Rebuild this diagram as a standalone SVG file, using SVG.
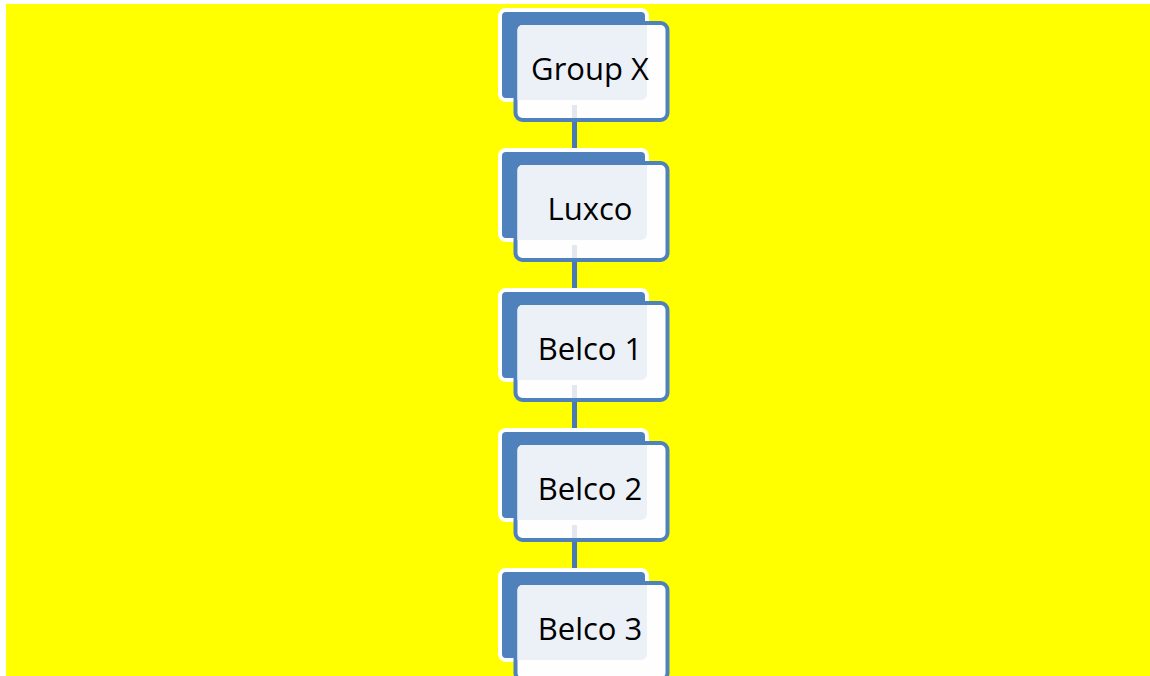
<svg xmlns="http://www.w3.org/2000/svg" xmlns:xlink="http://www.w3.org/1999/xlink" width="1150" height="676" viewBox="0 0 1150 676">
  <style>
    .back { fill: #4F81BD; stroke: #FFFFFF; stroke-width: 4; }
    .front { fill: #FEFEFE; stroke: #4F81BD; stroke-width: 4; }
    .tint { fill: #ECF1F8; }
    .ghost { stroke: #E3E7EF; stroke-width: 5; }
    .link { stroke: #4A7AB5; stroke-width: 5; fill: none; }
    .label { font-family: "Open Sans", "Liberation Sans", sans-serif; font-size: 31px; fill: #000000; text-anchor: middle; }
  </style>
  <defs>
    <!-- one box: blue card behind, light card in front -->
    <clipPath id="frontClip">
      <rect x="517.5" y="25" width="148" height="93" rx="5"/>
    </clipPath>
    <g id="box">
      <rect class="back" x="500" y="10" width="147" height="90" rx="6"/>
      <rect class="front" x="515.5" y="23" width="152" height="97" rx="7"/>
      <rect class="tint" x="500" y="10" width="147" height="90" rx="6" clip-path="url(#frontClip)"/>
    </g>
    <!-- outgoing link seen faintly through the front card -->
    <line id="ghostLink" class="ghost" x1="574.5" y1="105" x2="574.5" y2="118"/>
  </defs>

  <rect x="0" y="0" width="1150" height="676" fill="#FFFFFF"/>
  <rect x="6" y="4" width="1144" height="672" fill="#FFFF00"/>

  <g id="connectors">
    <line class="link" x1="574.5" y1="100" x2="574.5" y2="150"/>
    <line class="link" x1="574.5" y1="240" x2="574.5" y2="290"/>
    <line class="link" x1="574.5" y1="380" x2="574.5" y2="430"/>
    <line class="link" x1="574.5" y1="520" x2="574.5" y2="570"/>
  </g>

  <g id="node-group-x">
    <use xlink:href="#box"/>
    <use xlink:href="#ghostLink"/>
    <text class="label" x="590" y="80">Group X</text>
  </g>
  <g id="node-luxco" transform="translate(0,140)">
    <use xlink:href="#box"/>
    <use xlink:href="#ghostLink"/>
    <text class="label" x="590" y="80">Luxco</text>
  </g>
  <g id="node-belco-1" transform="translate(0,280)">
    <use xlink:href="#box"/>
    <use xlink:href="#ghostLink"/>
    <text class="label" x="590" y="80">Belco 1</text>
  </g>
  <g id="node-belco-2" transform="translate(0,420)">
    <use xlink:href="#box"/>
    <use xlink:href="#ghostLink"/>
    <text class="label" x="590" y="80">Belco 2</text>
  </g>
  <g id="node-belco-3" transform="translate(0,560)">
    <use xlink:href="#box"/>
    <text class="label" x="590" y="80">Belco 3</text>
  </g>
</svg>
